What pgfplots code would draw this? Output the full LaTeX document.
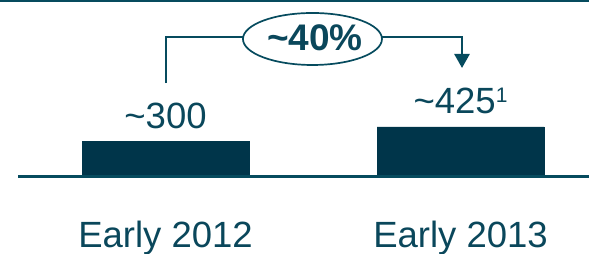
\documentclass[border=0pt]{standalone}
\usepackage{pgfplots}
\pgfplotsset{compat=1.18}
\usetikzlibrary{arrows.meta}
\usepackage{fontspec}
\setmainfont{Liberation Sans}
\definecolor{barc}{HTML}{00354A}
\definecolor{txt}{HTML}{0A475B}
\definecolor{lin}{HTML}{064B5E}
\begin{document}
\begin{tikzpicture}
\begin{axis}[
  width=589bp, height=254bp, scale only axis,
  xmin=-0.56102, xmax=1.43559, ymin=-664, ymax=1513,
  hide axis, clip=false,
  ybar, bar width=0.5661,
  nodes near coords, point meta=explicit symbolic,
  every node near coord/.append style={anchor=base, yshift=13bp, inner sep=0pt, text=txt, font=\fontsize{36.5bp}{36.5bp}\selectfont},
]
\addplot[fill=barc, draw=barc, line width=0.4bp] coordinates {
  (0,300) [\textasciitilde300]
  (1,425) [\textasciitilde425\raisebox{11bp}{\fontsize{21bp}{21bp}\selectfont 1}]
};
% baseline and top rule
\draw[lin, line width=2.2bp] (rel axis cs:0.0306,0.3051) -- (rel axis cs:1,0.3051);
\draw[lin, line width=2bp] (rel axis cs:0,0.997) -- (rel axis cs:1,0.997);
% category labels
\node[anchor=base, text=txt, font=\fontsize{36.5bp}{36.5bp}\selectfont, inner sep=0pt] at (axis cs:0,-604) {Early 2012};
\node[anchor=base, text=txt, font=\fontsize{36.5bp}{36.5bp}\selectfont, inner sep=0pt] at (axis cs:1,-604) {Early 2013};
% growth bracket
\draw[lin, line width=2.6bp] (rel axis cs:0.2818,0.6732) -- (rel axis cs:0.2818,0.8543) -- (rel axis cs:0.4126,0.8543);
\draw[lin, line width=2.6bp, -{Triangle[width=15bp,length=14bp]}] (rel axis cs:0.6486,0.8543) -- (rel axis cs:0.7844,0.8543) -- (rel axis cs:0.7844,0.7323);
\draw[lin, line width=1.7bp] (rel axis cs:0.5305,0.8465) ellipse [x radius=69.5bp, y radius=26bp];
\node[anchor=base, text=txt, font=\fontsize{37bp}{37bp}\selectfont\bfseries, inner sep=0pt] at (rel axis cs:0.5348,0.8031) {\textasciitilde40\%};
\end{axis}
\pgfresetboundingbox
\path (current axis.south west) rectangle (current axis.north east);
\end{tikzpicture}
\end{document}
